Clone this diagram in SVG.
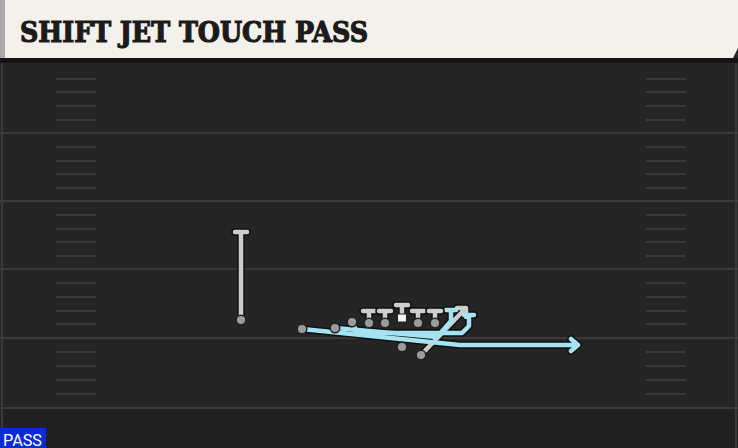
<svg xmlns="http://www.w3.org/2000/svg" width="738" height="448" viewBox="0 0 738 448">
<defs>
<style>
.yard{stroke:#3b3b3b;stroke-width:2}
.hash{stroke:#393939;stroke-width:2}
.out{fill:none;stroke:#111;stroke-width:7.5;stroke-linecap:round;stroke-linejoin:round}
.blue{fill:none;stroke:#a3e3f2;stroke-width:4.5;stroke-linecap:round;stroke-linejoin:round}
.gray{fill:none;stroke:#cdcdcd;stroke-width:4.5;stroke-linecap:round;stroke-linejoin:round}
.dot{fill:#9b9b9b;stroke:#222;stroke-width:1.5}
.title{font-family:"DejaVu Serif","Liberation Serif",serif;font-weight:bold;font-size:27px;fill:#1b1b1b;stroke:#1b1b1b;stroke-width:1.2}
.tag{font-family:"Roboto","Liberation Sans",sans-serif;font-size:16px;fill:#fff}
</style>
</defs>
<rect x="0" y="0" width="738" height="448" fill="#252525"/>
<rect x="0" y="408" width="738" height="40" fill="#202020"/>
<line x1="2" y1="60" x2="2" y2="448" stroke="#3a3a3a" stroke-width="2"/>
<line x1="736" y1="60" x2="736" y2="448" stroke="#3a3a3a" stroke-width="2"/>
<g id="field">
<line class="yard" x1="0" y1="133" x2="738" y2="133"/>
<line class="yard" x1="0" y1="201" x2="738" y2="201"/>
<line class="yard" x1="0" y1="269" x2="738" y2="269"/>
<line class="yard" x1="0" y1="338" x2="738" y2="338"/>
<line class="yard" x1="0" y1="408" x2="738" y2="408"/>
<g id="hashes-left">
<line class="hash" x1="56" y1="79" x2="96" y2="79"/><line class="hash" x1="56" y1="92" x2="96" y2="92"/><line class="hash" x1="56" y1="106" x2="96" y2="106"/><line class="hash" x1="56" y1="120" x2="96" y2="120"/>
<line class="hash" x1="56" y1="147" x2="96" y2="147"/><line class="hash" x1="56" y1="161" x2="96" y2="161"/><line class="hash" x1="56" y1="174" x2="96" y2="174"/><line class="hash" x1="56" y1="188" x2="96" y2="188"/>
<line class="hash" x1="56" y1="215" x2="96" y2="215"/><line class="hash" x1="56" y1="229" x2="96" y2="229"/><line class="hash" x1="56" y1="242" x2="96" y2="242"/><line class="hash" x1="56" y1="256" x2="96" y2="256"/>
<line class="hash" x1="56" y1="283" x2="96" y2="283"/><line class="hash" x1="56" y1="297" x2="96" y2="297"/><line class="hash" x1="56" y1="311" x2="96" y2="311"/><line class="hash" x1="56" y1="324" x2="96" y2="324"/>
<line class="hash" x1="56" y1="352" x2="96" y2="352"/><line class="hash" x1="56" y1="366" x2="96" y2="366"/><line class="hash" x1="56" y1="380" x2="96" y2="380"/><line class="hash" x1="56" y1="394" x2="96" y2="394"/>
</g>
<g id="hashes-right">
<line class="hash" x1="646" y1="79" x2="686" y2="79"/><line class="hash" x1="646" y1="92" x2="686" y2="92"/><line class="hash" x1="646" y1="106" x2="686" y2="106"/><line class="hash" x1="646" y1="120" x2="686" y2="120"/>
<line class="hash" x1="646" y1="147" x2="686" y2="147"/><line class="hash" x1="646" y1="161" x2="686" y2="161"/><line class="hash" x1="646" y1="174" x2="686" y2="174"/><line class="hash" x1="646" y1="188" x2="686" y2="188"/>
<line class="hash" x1="646" y1="215" x2="686" y2="215"/><line class="hash" x1="646" y1="229" x2="686" y2="229"/><line class="hash" x1="646" y1="242" x2="686" y2="242"/><line class="hash" x1="646" y1="256" x2="686" y2="256"/>
<line class="hash" x1="646" y1="283" x2="686" y2="283"/><line class="hash" x1="646" y1="297" x2="686" y2="297"/><line class="hash" x1="646" y1="311" x2="686" y2="311"/><line class="hash" x1="646" y1="324" x2="686" y2="324"/>
<line class="hash" x1="646" y1="352" x2="686" y2="352"/><line class="hash" x1="646" y1="366" x2="686" y2="366"/><line class="hash" x1="646" y1="380" x2="686" y2="380"/><line class="hash" x1="646" y1="394" x2="686" y2="394"/>
</g>
</g>
<g id="header">
<rect x="0" y="58" width="738" height="5" fill="#141414"/>
<polygon points="0,0 738,0 738,48 733,58 0,58" fill="#f4f1ea"/>
<rect x="0" y="0" width="5" height="58" fill="#a8a9a6"/>
<text class="title" x="20" y="42" textLength="348" lengthAdjust="spacingAndGlyphs">SHIFT JET TOUCH PASS</text>
</g>
<g id="connectors">
<path class="out" d="M241,320 V232 M235,232 H247"/>
<path class="out" d="M421,355 L465,309 M457,308 L466,308 L466,317"/>
<path class="out" d="M335,328 L437,337 L451,321 V310 M446,310 H456"/>
<path class="out" d="M352,321 L357,333 L462,333 L469,326 V315 M464,315 H474"/>
<path class="out" d="M302,329 L460,345 L578,345 M571,339 L578,345 L571,351"/>
<path class="gray" d="M241,320 V232 M235,232 H247"/>
<path class="gray" d="M421,355 L465,309 M457,308 L466,308 L466,317"/>
<path class="blue" d="M335,328 L437,337 L451,321 V310 M446,310 H456"/>
<path class="blue" d="M352,321 L357,333 L462,333 L469,326 V315 M464,315 H474"/>
<path class="blue" d="M302,329 L460,345 L578,345 M571,339 L578,345 L571,351"/>
</g>
<g id="wr-left"><circle class="dot" cx="241" cy="320" r="4.8"/></g>
<g id="wing-1"><circle class="dot" cx="302" cy="329" r="4.8"/></g>
<g id="wing-2"><circle class="dot" cx="335" cy="328" r="4.8"/></g>
<g id="wing-3"><circle class="dot" cx="352" cy="322" r="4.8"/></g>
<g id="ol-1"><path class="out" d="M369,323 V311 M363,311 H375"/><path class="gray" d="M369,323 V311 M363,311 H375"/><circle class="dot" cx="369" cy="323" r="4.8"/></g>
<g id="ol-2"><path class="out" d="M385,323 V311 M379,311 H391"/><path class="gray" d="M385,323 V311 M379,311 H391"/><circle class="dot" cx="385" cy="323" r="4.8"/></g>
<g id="center"><path class="out" d="M402,318 V305 M396,305 H408"/><path class="gray" d="M402,318 V305 M396,305 H408"/><rect x="397.5" y="314" width="9" height="8" fill="#f2f2f2" stroke="#222" stroke-width="1"/></g>
<g id="ol-4"><path class="out" d="M418,323 V311 M412,311 H424"/><path class="gray" d="M418,323 V311 M412,311 H424"/><circle class="dot" cx="418" cy="323" r="4.8"/></g>
<g id="ol-5"><path class="out" d="M435,323 V311 M429,311 H441"/><path class="gray" d="M435,323 V311 M429,311 H441"/><circle class="dot" cx="435" cy="323" r="4.8"/></g>
<g id="qb"><circle class="dot" cx="402" cy="347" r="4.8"/></g>
<g id="rb"><circle class="dot" cx="421" cy="355" r="4.8"/></g>
<g id="tag">
<rect x="0" y="428" width="46" height="20" fill="#0a2bd6"/>
<text class="tag" x="3" y="445.5" textLength="39" lengthAdjust="spacingAndGlyphs">PASS</text>
</g>
</svg>
